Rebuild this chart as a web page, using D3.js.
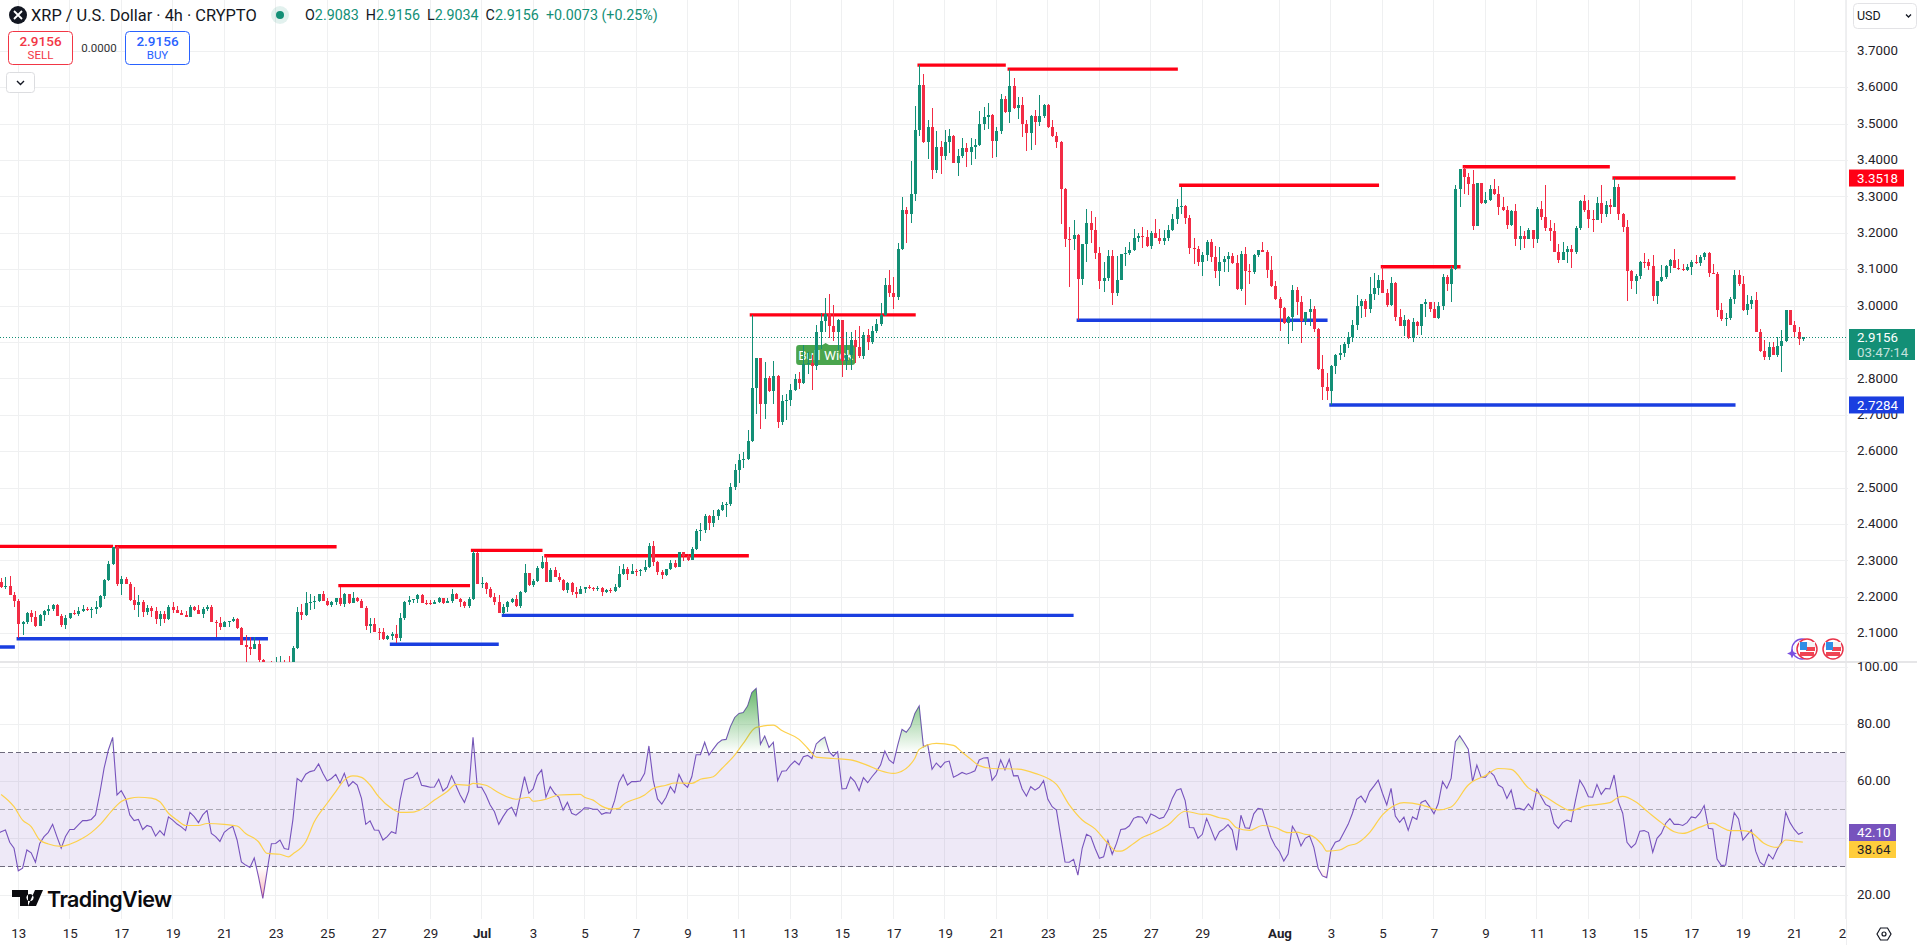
<!DOCTYPE html>
<html>
<head>
<meta charset="utf-8">
<title>XRP / U.S. Dollar 4h</title>
<script src="https://cdn.jsdelivr.net/npm/d3@7/dist/d3.min.js"></script>
<style>
    html, body { margin: 0; padding: 0; background: #fff; overflow: hidden; }
    svg { display: block; font-family: Roboto, Inter, sans-serif; }
</style>
</head>
<body>
<svg id="chart" width="1917" height="945"></svg>
<script>
// 4h closes, ten bars per line. First bar is 12 Jun 04:00
const closes = [
    2.243,2.227,2.231,2.205,2.191,2.127,2.133,2.157,2.146,2.121,
    2.151,2.162,2.169,2.180,2.149,2.124,2.143,2.157,2.154,2.162,
    2.168,2.166,2.169,2.173,2.204,2.248,2.292,2.337,2.237,2.249,
    2.237,2.193,2.179,2.188,2.160,2.170,2.162,2.140,2.154,2.140,
    2.173,2.165,2.158,2.152,2.146,2.173,2.165,2.154,2.168,2.173,
    2.133,2.129,2.118,2.132,2.135,2.141,2.116,2.069,2.064,2.058,
    2.071,2.027,2.000,2.005,2.000,2.010,2.015,2.005,1.995,2.061,
    2.160,2.151,2.183,2.187,2.191,2.209,2.191,2.179,2.187,2.197,
    2.182,2.209,2.184,2.198,2.190,2.171,2.122,2.127,2.106,2.104,
    2.086,2.094,2.099,2.087,2.142,2.187,2.193,2.194,2.206,2.184,
    2.183,2.182,2.187,2.197,2.183,2.190,2.209,2.196,2.187,2.176,
    2.195,2.322,2.237,2.239,2.223,2.201,2.187,2.157,2.173,2.187,
    2.195,2.176,2.215,2.267,2.234,2.245,2.281,2.297,2.242,2.275,
    2.256,2.248,2.220,2.239,2.215,2.209,2.223,2.228,2.226,2.223,
    2.226,2.215,2.220,2.217,2.228,2.264,2.278,2.264,2.272,2.271,
    2.275,2.283,2.341,2.297,2.269,2.261,2.278,2.294,2.283,2.324,
    2.313,2.302,2.333,2.382,2.385,2.423,2.404,2.423,2.440,2.454,
    2.456,2.503,2.550,2.577,2.580,2.629,2.775,2.858,2.731,2.802,
    2.767,2.808,2.682,2.739,2.742,2.770,2.800,2.789,2.841,2.845,
    2.835,2.929,2.959,2.978,2.945,2.929,2.962,2.849,2.866,2.907,
    2.888,2.863,2.921,2.901,2.932,2.951,2.976,3.058,3.037,3.026,
    3.157,3.264,3.254,3.308,3.484,3.607,3.451,3.492,3.374,3.437,
    3.413,3.451,3.467,3.393,3.412,3.434,3.423,3.437,3.443,3.500,
    3.519,3.525,3.454,3.481,3.569,3.533,3.605,3.544,3.552,3.500,
    3.475,3.522,3.506,3.522,3.552,3.492,3.467,3.451,3.322,3.184,
    3.183,3.195,3.074,3.171,3.228,3.209,3.146,3.069,3.077,3.138,
    3.036,3.072,3.143,3.146,3.154,3.187,3.193,3.190,3.165,3.201,
    3.187,3.179,3.187,3.209,3.239,3.272,3.275,3.242,3.160,3.158,
    3.121,3.140,3.176,3.135,3.096,3.121,3.129,3.138,3.118,3.047,
    3.143,3.097,3.095,3.140,3.154,3.149,3.099,3.055,3.020,2.995,
    2.954,2.970,3.044,3.011,2.958,2.984,2.992,2.937,2.827,2.778,
    2.767,2.835,2.866,2.871,2.896,2.915,2.948,3.000,3.014,2.992,
    3.033,3.050,3.072,3.036,3.003,3.063,2.970,2.945,2.962,2.911,
    2.956,2.945,3.006,3.011,2.992,2.967,3.000,3.080,3.061,3.102,
    3.321,3.377,3.355,3.335,3.220,3.338,3.283,3.291,3.321,3.307,
    3.272,3.264,3.223,3.261,3.184,3.193,3.184,3.209,3.184,3.267,
    3.245,3.215,3.206,3.149,3.127,3.149,3.157,3.149,3.215,3.289,
    3.264,3.239,3.237,3.283,3.253,3.278,3.272,3.327,3.253,3.217,
    3.096,3.069,3.083,3.121,3.120,3.110,3.028,3.069,3.080,3.110,
    3.127,3.105,3.103,3.099,3.107,3.121,3.119,3.135,3.147,3.090,
    3.088,2.989,2.964,2.966,3.020,3.086,3.061,2.989,3.006,3.017,
    2.930,2.877,2.860,2.887,2.866,2.890,2.904,2.989,2.948,2.929,
    2.9083,2.9156
];
const highs = [
    2.258,2.254,2.256,2.259,2.215,2.194,2.136,2.160,2.165,2.162,
    2.153,2.165,2.179,2.182,2.182,2.154,2.151,2.158,2.165,2.173,
    2.179,2.173,2.173,2.190,2.206,2.250,2.300,2.339,2.342,2.259,
    2.257,2.243,2.227,2.206,2.193,2.179,2.177,2.173,2.162,2.162,
    2.179,2.187,2.176,2.165,2.162,2.179,2.176,2.179,2.172,2.179,
    2.179,2.138,2.145,2.135,2.136,2.145,2.143,2.119,2.096,2.090,
    2.090,2.083,2.030,2.012,2.025,2.036,2.038,2.028,2.039,2.066,
    2.172,2.182,2.215,2.209,2.204,2.210,2.218,2.198,2.191,2.198,
    2.229,2.211,2.210,2.215,2.202,2.195,2.176,2.142,2.142,2.115,
    2.115,2.097,2.106,2.124,2.157,2.189,2.203,2.195,2.209,2.209,
    2.192,2.192,2.192,2.201,2.199,2.199,2.223,2.213,2.198,2.189,
    2.202,2.328,2.324,2.256,2.242,2.228,2.211,2.206,2.182,2.190,
    2.198,2.206,2.217,2.291,2.267,2.250,2.286,2.313,2.313,2.281,
    2.283,2.267,2.250,2.242,2.242,2.228,2.231,2.229,2.234,2.229,
    2.231,2.227,2.223,2.225,2.236,2.286,2.291,2.283,2.291,2.278,
    2.278,2.302,2.349,2.355,2.300,2.275,2.278,2.302,2.302,2.325,
    2.325,2.319,2.338,2.388,2.404,2.429,2.426,2.440,2.443,2.462,
    2.462,2.514,2.566,2.594,2.599,2.660,2.976,2.858,2.858,2.846,
    2.808,2.850,2.811,2.756,2.759,2.786,2.813,2.819,2.893,2.874,
    2.866,2.948,2.981,3.022,3.033,3.003,2.965,2.962,2.930,2.930,
    2.934,2.945,2.929,2.937,2.945,2.965,3.009,3.076,3.099,3.079,
    3.172,3.299,3.273,3.399,3.550,3.662,3.639,3.511,3.544,3.481,
    3.454,3.484,3.486,3.470,3.432,3.462,3.448,3.462,3.459,3.536,
    3.547,3.558,3.528,3.492,3.583,3.577,3.651,3.627,3.574,3.574,
    3.511,3.525,3.539,3.580,3.555,3.555,3.511,3.478,3.454,3.324,
    3.217,3.236,3.198,3.171,3.267,3.261,3.245,3.162,3.121,3.154,
    3.154,3.138,3.143,3.162,3.176,3.212,3.201,3.217,3.209,3.206,
    3.239,3.212,3.209,3.223,3.253,3.294,3.328,3.278,3.250,3.187,
    3.165,3.149,3.182,3.184,3.165,3.162,3.138,3.149,3.145,3.140,
    3.151,3.162,3.116,3.143,3.154,3.176,3.154,3.138,3.069,3.025,
    2.998,2.973,3.058,3.052,3.028,2.984,3.020,3.000,2.940,2.866,
    2.816,2.838,2.868,2.893,2.901,2.929,2.962,3.030,3.020,3.020,
    3.080,3.090,3.085,3.107,3.047,3.080,3.066,2.992,2.976,2.965,
    2.967,2.959,3.006,3.020,3.011,3.011,3.011,3.088,3.085,3.110,
    3.332,3.377,3.382,3.365,3.373,3.338,3.339,3.313,3.333,3.349,
    3.330,3.300,3.275,3.264,3.280,3.220,3.206,3.215,3.209,3.272,
    3.289,3.333,3.237,3.228,3.170,3.176,3.165,3.168,3.220,3.291,
    3.305,3.291,3.264,3.300,3.333,3.289,3.294,3.352,3.335,3.256,
    3.236,3.099,3.088,3.124,3.146,3.130,3.140,3.069,3.113,3.113,
    3.130,3.157,3.130,3.116,3.116,3.127,3.140,3.140,3.149,3.149,
    3.116,3.095,3.009,2.982,3.025,3.099,3.099,3.083,3.030,3.028,
    3.039,2.937,2.907,2.901,2.901,2.915,2.934,2.989,2.990,2.959,
    2.943,2.9156
];
const lows = [
    2.235,2.225,2.222,2.205,2.174,2.087,2.097,2.127,2.131,2.119,
    2.120,2.136,2.151,2.163,2.148,2.119,2.113,2.141,2.151,2.149,
    2.160,2.162,2.144,2.154,2.170,2.195,2.245,2.290,2.231,2.206,
    2.236,2.191,2.165,2.147,2.147,2.151,2.145,2.127,2.121,2.129,
    2.138,2.156,2.156,2.151,2.145,2.146,2.162,2.153,2.143,2.162,
    2.132,2.090,2.110,2.118,2.119,2.132,2.112,2.068,2.000,2.042,
    2.057,2.010,1.980,1.970,1.970,1.980,1.980,1.970,1.960,1.990,
    2.058,2.138,2.150,2.165,2.168,2.187,2.190,2.177,2.173,2.179,
    2.176,2.174,2.182,2.184,2.187,2.171,2.110,2.101,2.105,2.083,
    2.083,2.083,2.084,2.074,2.080,2.137,2.179,2.183,2.183,2.184,
    2.179,2.178,2.183,2.183,2.181,2.184,2.185,2.195,2.174,2.171,
    2.171,2.192,2.236,2.225,2.210,2.197,2.179,2.156,2.155,2.160,
    2.183,2.174,2.171,2.212,2.231,2.228,2.242,2.277,2.241,2.241,
    2.255,2.242,2.217,2.212,2.206,2.199,2.209,2.211,2.223,2.217,
    2.217,2.204,2.211,2.212,2.215,2.225,2.261,2.247,2.263,2.258,
    2.258,2.270,2.280,2.286,2.261,2.250,2.259,2.275,2.280,2.283,
    2.300,2.300,2.302,2.330,2.355,2.377,2.385,2.394,2.412,2.437,
    2.421,2.451,2.495,2.514,2.555,2.577,2.627,2.703,2.662,2.690,
    2.764,2.731,2.665,2.673,2.687,2.725,2.767,2.771,2.786,2.814,
    2.770,2.824,2.882,2.929,2.912,2.904,2.879,2.805,2.825,2.825,
    2.844,2.858,2.855,2.879,2.896,2.926,2.945,2.973,3.024,2.991,
    3.017,3.154,3.174,3.229,3.290,3.467,3.448,3.404,3.349,3.365,
    3.363,3.401,3.420,3.393,3.357,3.407,3.382,3.388,3.404,3.440,
    3.484,3.486,3.407,3.410,3.473,3.530,3.503,3.541,3.514,3.464,
    3.426,3.429,3.443,3.495,3.517,3.489,3.464,3.434,3.226,3.162,
    3.052,3.154,2.962,3.058,3.121,3.173,3.129,3.047,3.039,3.069,
    3.003,3.028,3.071,3.110,3.140,3.151,3.176,3.160,3.163,3.157,
    3.186,3.171,3.168,3.179,3.206,3.225,3.253,3.225,3.143,3.116,
    3.110,3.083,3.124,3.121,3.077,3.055,3.094,3.094,3.116,3.044,
    3.041,3.003,3.062,3.088,3.135,3.148,3.077,3.052,3.017,2.932,
    2.950,2.896,2.932,2.976,2.899,2.948,2.945,2.929,2.824,2.742,
    2.742,2.728,2.813,2.852,2.860,2.885,2.901,2.934,2.967,2.970,
    2.981,3.017,3.031,3.035,2.998,3.000,2.959,2.944,2.918,2.909,
    2.901,2.920,2.920,2.970,2.984,2.966,2.965,2.989,3.041,3.011,
    3.099,3.272,3.308,3.305,3.209,3.219,3.280,3.280,3.289,3.305,
    3.250,3.261,3.212,3.220,3.165,3.154,3.160,3.184,3.160,3.173,
    3.236,3.206,3.179,3.148,3.118,3.126,3.118,3.105,3.143,3.209,
    3.259,3.215,3.204,3.237,3.228,3.245,3.253,3.272,3.236,3.204,
    3.014,3.047,3.033,3.074,3.105,3.099,3.014,3.006,3.066,3.074,
    3.091,3.104,3.100,3.096,3.096,3.085,3.116,3.110,3.128,3.081,
    3.088,2.971,2.960,2.944,2.962,3.006,3.055,2.987,2.976,2.992,
    2.929,2.874,2.852,2.852,2.865,2.860,2.820,2.901,2.948,2.914,
    2.894,2.9034
];
const firstOpen = 2.250;

const rsiValues = [
    41.5,42.3,42.9,38.6,36.5,28.6,29.5,35.9,34.9,31.6,
    38.2,40.6,42.1,44.9,40.6,36.5,40.6,43.1,43.1,44.7,
    46.2,46.2,46.6,48.2,55.8,64.6,71,75.4,55.2,56.7,
    54,48.2,46.2,46.6,43.1,44.5,44,40.8,42.7,41,
    47.5,46.4,45,44,42.7,49.1,47.6,45.5,48.2,49.8,
    41.7,40.6,38.9,42.1,43.3,44.2,39.4,31.7,30.6,29.8,
    33.1,26.5,18.9,28.5,38.1,38.2,39.4,36.4,36.1,46.4,
    61,59.9,62.5,63.4,63.8,66.1,62.8,60.1,61,62.4,
    59.3,62.8,58.3,59.9,58.7,54,44.9,46.1,42.9,42.8,
    39.4,40.6,42.3,41.7,53.4,60.4,61,61.4,63.1,58.6,
    58.3,57.9,58,60.7,56.6,57.9,61.9,58.6,55.2,52.6,
    56.6,75.4,57.9,57.9,55.2,51.7,49.3,44.9,47.6,49.9,
    50.9,47.9,54.6,61.6,55.8,57.3,62,64,54.4,58.1,
    55.8,54.4,49.9,52.6,48.8,48.1,49.3,50.7,50.6,50.2,
    50.2,48.4,49,48.8,53.2,59.6,62.4,58.7,59.9,59.9,
    60.1,62.8,72.4,60.4,53.8,52,54.4,58.1,56,62.4,
    59.3,57.9,61.6,69.3,69.3,73.7,69.2,71.3,73.3,74.5,
    74.7,79.2,82.4,83.8,84.1,86.4,91.1,92.6,73,75.9,
    71.9,73.7,60.2,63.5,63.7,65.7,67.1,65.8,68.6,69.1,
    68,73.1,74.5,75.5,70.4,68.8,70.4,57.3,57.5,61.5,
    59.9,56.7,61.3,59.5,61.6,63.4,65.7,70.6,67.5,66.3,
    72.7,78.2,77.2,79.2,83.8,86.4,72.1,72.8,64.2,66.4,
    64.9,66.7,67.1,61.4,62.2,63.1,62.5,63,63.7,67.5,
    68.2,68.3,60.3,62.3,67.5,64,67.7,61.9,62,57.3,
    54.8,58.1,56.9,57.9,60.2,53.7,51.1,49.9,40.6,31.7,
    31.6,32.6,27.1,36.5,41.4,40.6,36.5,33,33.5,39.2,
    34.4,38.2,43.1,43.3,44.4,47,47.6,47.4,45.2,48.5,
    47.8,46.9,47.4,49.9,54,56.9,57.4,53.2,43.8,43.7,
    40,41.4,47,43.3,39.4,42.3,43.3,44.8,42.9,35.8,
    48.1,43.7,43.5,48.6,50.5,50.2,45.2,40.3,37.3,35.3,
    32,34.5,44.2,41.7,37.3,40,40.9,36.8,29.5,26.8,
    26.2,35.9,38.6,39.2,42,44.9,48.8,53.7,54.8,52.6,
    56.4,58.3,60.4,55.8,51.7,57.5,47.8,45.6,47.4,42.8,
    47.5,46.6,52.6,53.3,51.1,48.6,52.2,59.9,57.5,61,
    73.9,76,73.7,71.3,59.9,65.7,61.4,61.4,63.4,62,
    58.7,57.8,54,56.9,50.4,50.5,49.9,52.1,50.2,57.3,
    54.6,51.9,51.1,45.2,43.5,45.5,46.4,45.8,53.4,60.4,
    57.9,54.6,54.4,58.9,55.4,57.5,57.3,62.2,52.8,48.8,
    38.6,36.7,38.1,42.5,42.7,42,35.1,40,41.7,45.2,
    46.9,44.9,44.9,44.5,45.5,47.5,47.2,48.8,51.5,43.5,
    43.3,32.7,30.4,30.6,40.6,49,46.8,39.4,41.2,42.9,
    35.5,31.6,30.4,34.4,32.7,36.1,38.5,49.1,45.5,43.1,
    41.4,42.1
];

// RSI moving average, read at the bars where the curve turns
const maBars = [
    1,4,6,8,10,12,15,17,20,22,24,27,29,31,33,36,38,40,42,44,47,49,53,56,58,61,63,66,68,69,72,74,77,79,81,83,85,
    87,89,92,94,97,99,102,105,107,110,111,114,117,121,124,125,128,131,136,137,139,141,143,145,146,151,153,156,158,
    162,164,167,169,172,174,177,181,183,187,189,191,195,199,203,206,209,210,214,215,219,223,225,227,229,232,238,
    242,247,250,253,256,259,261,262,265,267,269,273,277,281,282,285,287,289,292,295,298,301,303,305,306,309,310,
    313,315,317,320,323,326,328,332,333,336,339,343,344,347,350,353,357,361,364,367,370,373,376,378,379,382,385,
    388,391,393,397,400,402,404,407,409,412,415,417,420,421
];
const maValues = [
    55.4,51.1,46.4,44.1,39.4,38,37.2,37.9,40,42,44.7,50,52.9,54,54.4,54.1,52.8,48.8,46.4,44.5,44.5,45.2,44.9,44.3,41.7,38.8,34.7,34.4,33.5,34.5,38.8,45.8,52.3,56.4,60.4,61.9,61.4,
    58.7,54.6,50.5,49.1,49.2,50.2,53.4,56.4,58.9,58.6,59.3,58.6,56,53.7,54.4,53,53.7,55.2,55.4,54.4,53.4,51.3,50.3,50.5,51.8,55.2,57.5,58.6,59.4,
    59.3,60.7,61.6,64.5,69.2,73.3,78.9,79.7,77.8,74.7,71.6,68.5,68,67.5,65.6,63.7,62.8,63,68.1,71.2,73.3,72.6,70.2,67.8,65.5,64.5,64.3,
    62.8,58.9,51.7,46.4,43.3,38.2,35.5,35.5,38.2,40.3,41.5,44.7,49.5,48.4,48.5,47.2,46.6,43.7,42.8,44.5,43.8,42,42.2,41.4,41.2,37.6,35.5,
    35.9,37.4,38.2,42,48.2,51.7,52.5,51.7,51.3,50,51,58.7,59.9,62,64.5,64.2,57.7,54.6,51.7,49.7,51.2,51.8,52.5,54.4,54.7,52.8,49.1,
    45.5,42.3,41.7,43.9,45.3,43.9,42.7,42.7,42,38.2,36.8,39.4,38.8,38.64
];

// Support / resistance levels: price and the bar range they span
const levelPrices = [2.340,2.339,2.232,2.329,2.314,2.976,3.662,3.651,3.332,3.108,3.383,3.3518,2.0636,2.086,2.071,2.1504,2.961,2.7284];
const levelFrom   = [-10,27.5,79.6,110.5,127.6,175.5,214.6,235.6,275.6,322.6,341.7,376.6,-10,4.6,91.6,117.7,251.7,310.6];
const levelTo     = [27.1,79.2,110.3,127.2,175.3,214.2,235.2,275.3,322.2,341.2,376,405.3,4.2,63.2,117,251,310.2,405.3];
const levelKinds  = ["r","r","r","r","r","r","r","r","r","r","r","r","b","b","b","b","b","b"];

const priceTicks = [3.7,3.6,3.5,3.4,3.3,3.2,3.1,3.0,2.9,2.8,2.7,2.6,2.5,2.4,2.3,2.2,2.1];
const priceLabels = [3.7,3.6,3.5,3.4,3.3,3.2,3.1,3.0,2.8,2.7,2.6,2.5,2.4,2.3,2.2,2.1];
const rsiTicks = [100,80,60,40,20];
const rsiLabels = [100,80,60,20];
const dayTicks = [
    "06-13","06-15","06-17","06-19","06-21","06-23","06-25","06-27","06-29",
    "07-01","07-03","07-05","07-07","07-09","07-11","07-13","07-15","07-17","07-19","07-21","07-23","07-25","07-27","07-29",
    "08-01","08-03","08-05","08-07","08-09","08-11","08-13","08-15","08-17","08-19","08-21","08-23"
];
const lastPrice = 2.9156;
const lastRsi = 42.10;
const lastRsiMa = 38.64;
const resistanceLabel = 3.3518;
const supportLabel = 2.7284;

const up = "#138f76", down = "#f22c45", redLine = "#ff0015", blueLine = "#1a3ee0";
const gridColor = "#eff0f1";
const plotRight = 1846, mainBottom = 662, rsiTop = 663, rsiBottom = 919;

const parseDay = d3.utcParse("%Y-%m-%d");
const tickDates = dayTicks.map((d) => parseDay("2025-" + d));
const firstBar = Date.UTC(2025, 5, 12, 4);
const barTime = (i) => new Date(firstBar + i * 4 * 3600e3);

const x = d3.scaleUtc()
    .domain([parseDay("2025-06-13"), parseDay("2025-08-21")])
    .range([18.3, 1794.3]);
const y = d3.scaleLinear().domain([3.7, 2.1]).range([51.3, 633.7]);
const yRsi = d3.scaleLinear().domain([100, 20]).range([667.3, 895.3]);

const svg = d3.select("#chart");
const defs = svg.append("defs");

function addClip(id, x0, y0, w, h) {
    defs.append("clipPath").attr("id", id).append("rect")
        .attr("x", x0).attr("y", y0).attr("width", w).attr("height", h);
}
addClip("main-clip", 0, 0, plotRight, mainBottom);
addClip("rsi-clip", 0, rsiTop, plotRight, rsiBottom - rsiTop);
addClip("time-clip", 0, rsiBottom, plotRight, 945 - rsiBottom);
addClip("over-clip", 0, rsiTop, plotRight, yRsi(70) - rsiTop);
addClip("under-clip", 0, yRsi(30), plotRight, rsiBottom - yRsi(30));

// Grid
const grid = svg.append("g").attr("stroke", gridColor).attr("stroke-width", 1).attr("shape-rendering", "crispEdges");
grid.selectAll(".v-main").data(tickDates).enter().append("line")
    .attr("x1", (d) => x(d)).attr("x2", (d) => x(d))
    .attr("y1", 0).attr("y2", mainBottom);
grid.selectAll(".v-rsi").data(tickDates).enter().append("line")
    .attr("x1", (d) => x(d)).attr("x2", (d) => x(d))
    .attr("y1", rsiTop).attr("y2", rsiBottom);
grid.selectAll(".h-main").data(priceTicks).enter().append("line")
    .attr("x1", 0).attr("x2", plotRight + 2)
    .attr("y1", (d) => y(d)).attr("y2", (d) => y(d));
grid.selectAll(".h-rsi").data(rsiTicks).enter().append("line")
    .attr("x1", 0).attr("x2", plotRight + 2)
    .attr("y1", (d) => yRsi(d)).attr("y2", (d) => yRsi(d));

// Pane borders
svg.append("line").attr("x1", plotRight).attr("x2", plotRight).attr("y1", 0).attr("y2", 945)
    .attr("stroke", "#eeeef0").attr("shape-rendering", "crispEdges");
svg.append("line").attr("x1", 0).attr("x2", 1917).attr("y1", mainBottom).attr("y2", mainBottom)
    .attr("stroke", "#e6e6e8").attr("stroke-width", 1.5).attr("shape-rendering", "crispEdges");

// Main pane
const main = svg.append("g").attr("clip-path", "url(#main-clip)");

const bullX = x(barTime(193.2));
const bull = main.append("g");
bull.append("path")
    .attr("d", `M${bullX - 5} 346 L${bullX} 343 L${bullX + 5} 346 Z`).attr("fill", "#4aa54d");
bull.append("rect").attr("x", bullX - 29.5).attr("y", 345).attr("width", 59).attr("height", 20).attr("rx", 3)
    .attr("fill", "#4aa54d");
bull.append("text").attr("x", bullX).attr("y", 355).attr("dy", ".34em").attr("text-anchor", "middle")
    .attr("fill", "#fff").attr("font-size", 13.5).text("Bull Wick");

const levels = d3.range(levelPrices.length).map((i) => ({
    price: levelPrices[i], from: levelFrom[i], to: levelTo[i], kind: levelKinds[i]
}));
main.selectAll(".level").data(levels).enter().append("line")
    .attr("x1", (d) => x(barTime(d.from))).attr("x2", (d) => x(barTime(d.to)))
    .attr("y1", (d) => y(d.price)).attr("y2", (d) => y(d.price))
    .attr("stroke", (d) => d.kind === "r" ? redLine : blueLine)
    .attr("stroke-width", 3.4);

// Candles: crypto trades around the clock, so each bar opens at the previous close
const candles = closes.map((c, i) => ({
    i, close: c, high: highs[i], low: lows[i],
    open: i === 0 ? firstOpen : closes[i - 1]
}));
const candle = main.selectAll(".candle").data(candles).enter().append("g")
    .attr("fill", (d) => d.close >= d.open ? up : down)
    .attr("shape-rendering", "crispEdges");
candle.append("rect")
    .attr("x", (d) => Math.round(x(barTime(d.i)))).attr("width", 1)
    .attr("y", (d) => y(d.high)).attr("height", (d) => y(d.low) - y(d.high));
candle.append("rect")
    .attr("x", (d) => Math.round(x(barTime(d.i))) - 1).attr("width", 3)
    .attr("y", (d) => y(Math.max(d.open, d.close)))
    .attr("height", (d) => Math.max(1, Math.abs(y(d.open) - y(d.close))));

main.append("line").attr("x1", 0).attr("x2", plotRight)
    .attr("y1", Math.round(y(lastPrice)) + 0.5).attr("y2", Math.round(y(lastPrice)) + 0.5)
    .attr("stroke", up).attr("stroke-dasharray", "1 2");

// RSI pane
const rsi = svg.append("g").attr("clip-path", "url(#rsi-clip)");
rsi.append("rect").attr("x", 0).attr("width", plotRight).attr("y", yRsi(70)).attr("height", yRsi(30) - yRsi(70))
    .attr("fill", "#7e57c2").attr("fill-opacity", 0.13);

const overGrad = defs.append("linearGradient").attr("id", "over-grad").attr("gradientUnits", "userSpaceOnUse")
    .attr("x1", 0).attr("x2", 0).attr("y1", yRsi(100)).attr("y2", yRsi(70));
overGrad.append("stop").attr("offset", 0).attr("stop-color", "#37a13c").attr("stop-opacity", 1);
overGrad.append("stop").attr("offset", 1).attr("stop-color", "#37a13c").attr("stop-opacity", 0);
const underGrad = defs.append("linearGradient").attr("id", "under-grad").attr("gradientUnits", "userSpaceOnUse")
    .attr("x1", 0).attr("x2", 0).attr("y1", yRsi(30)).attr("y2", yRsi(0));
underGrad.append("stop").attr("offset", 0).attr("stop-color", "#f23645").attr("stop-opacity", 0);
underGrad.append("stop").attr("offset", 1).attr("stop-color", "#f23645").attr("stop-opacity", 1);

const rsiPoints = rsiValues.map((v, i) => ({ i, v }));
const overArea = d3.area().x((d) => x(barTime(d.i))).y0(yRsi(70)).y1((d) => yRsi(d.v));
const underArea = d3.area().x((d) => x(barTime(d.i))).y0(yRsi(30)).y1((d) => yRsi(d.v));
svg.append("path").datum(rsiPoints).attr("d", overArea).attr("fill", "url(#over-grad)").attr("clip-path", "url(#over-clip)");
svg.append("path").datum(rsiPoints).attr("d", underArea).attr("fill", "url(#under-grad)").attr("clip-path", "url(#under-clip)");

[[70, "#6d6a7c", "5 3"], [50, "#aaa8b3", "5 3"], [30, "#6d6a7c", "5 3"]].forEach(([level, color, dash]) => {
    rsi.append("line").attr("x1", 0).attr("x2", plotRight)
        .attr("y1", yRsi(level)).attr("y2", yRsi(level))
        .attr("stroke", color).attr("stroke-dasharray", dash).attr("shape-rendering", "crispEdges");
});

const rsiLine = d3.line().x((d) => x(barTime(d.i))).y((d) => yRsi(d.v));
rsi.append("path").datum(rsiPoints).attr("d", rsiLine)
    .attr("fill", "none").attr("stroke", "#7753bd").attr("stroke-width", 1.1);

const maPoints = maBars.map((b, i) => ({ i: b, v: maValues[i] }));
const maLine = d3.line().x((d) => x(barTime(d.i))).y((d) => yRsi(d.v)).curve(d3.curveMonotoneX);
rsi.append("path").datum(maPoints).attr("d", maLine)
    .attr("fill", "none").attr("stroke", "#fdd14b").attr("stroke-width", 1.2);

// Axes
const axisText = "#1f2229";
const priceAxis = d3.axisRight(y).tickValues(priceLabels).tickFormat(d3.format(".4f")).tickSize(0).tickPadding(0);
svg.append("g").attr("transform", "translate(1857,-1)").call(priceAxis)
    .call((g) => g.select(".domain").remove())
    .call((g) => g.selectAll("text").attr("font-size", 13.3).attr("fill", axisText).attr("font-family", "Roboto"));
const rsiAxis = d3.axisRight(yRsi).tickValues(rsiLabels).tickFormat(d3.format(".2f")).tickSize(0).tickPadding(0);
svg.append("g").attr("transform", "translate(1857,-1)").call(rsiAxis)
    .call((g) => g.select(".domain").remove())
    .call((g) => g.selectAll("text").attr("font-size", 13.3).attr("fill", axisText).attr("font-family", "Roboto"));

const monthLabel = d3.utcFormat("%b");
const dayLabel = d3.utcFormat("%-d");
const timeAxis = d3.axisBottom(x).tickValues(tickDates).tickSize(0).tickPadding(0)
    .tickFormat((d) => d.getUTCDate() === 1 ? monthLabel(d) : dayLabel(d));
svg.append("g").attr("clip-path", "url(#time-clip)")
    .append("g").attr("transform", "translate(0,929)").call(timeAxis)
    .call((g) => g.select(".domain").remove())
    .call((g) => g.selectAll("text").attr("font-size", 13.3).attr("fill", axisText).attr("font-family", "Roboto")
        .attr("font-weight", (d) => d.getUTCDate() === 1 ? 700 : 400));

// Price tags on the axis
function tag(yPos, h, w, color, label, textColor) {
    svg.append("rect").attr("x", 1849).attr("y", yPos - h / 2).attr("width", w).attr("height", h).attr("fill", color);
    svg.append("text").attr("x", 1857).attr("y", yPos).attr("dy", ".35em")
        .attr("font-size", 13.3).attr("fill", textColor).text(label);
}
const price4 = d3.format(".4f"), rsi2 = d3.format(".2f");
tag(y(resistanceLabel), 17, 55, redLine, price4(resistanceLabel), "#fff");
tag(y(supportLabel), 17, 55, blueLine, price4(supportLabel), "#fff");
svg.append("rect").attr("x", 1849).attr("y", 329).attr("width", 66).attr("height", 31).attr("fill", up);
svg.append("text").attr("x", 1857).attr("y", 337.5).attr("dy", ".35em").attr("font-size", 13.3).attr("fill", "#fff").text(price4(lastPrice));
svg.append("text").attr("x", 1857).attr("y", 352).attr("dy", ".35em").attr("font-size", 13.3).attr("fill", "#fff").attr("fill-opacity", 0.75).text("03:47:14");
tag(832.5, 17, 47, "#7753bd", rsi2(lastRsi), "#fff");
tag(849.5, 17, 47, "#ffcd3c", rsi2(lastRsiMa), "#1f2229");

// Chart legend
const header = svg.append("g");
header.append("circle").attr("cx", 18).attr("cy", 15).attr("r", 9).attr("fill", "#131722");
header.append("path").attr("d", "M14 11 L22 19 M22 11 L14 19").attr("stroke", "#fff").attr("stroke-width", 1.8).attr("fill", "none");
header.append("text").attr("x", 31).attr("y", 15).attr("dy", ".35em").attr("font-size", 16.4).attr("fill", "#131722")
    .text("XRP / U.S. Dollar · 4h · CRYPTO");
header.append("circle").attr("cx", 280).attr("cy", 15).attr("r", 9).attr("fill", up).attr("fill-opacity", 0.12);
header.append("circle").attr("cx", 280).attr("cy", 15).attr("r", 4).attr("fill", up);

const legendParts = [["O", "2.9083"], ["H", "2.9156"], ["L", "2.9034"], ["C", "2.9156"]];
const legend = header.append("text").attr("x", 305).attr("y", 15).attr("dy", ".35em").attr("font-size", 14.3);
legendParts.forEach(([k, v], i) => {
    legend.append("tspan").attr("dx", i ? 7 : 0).attr("fill", "#131722").text(k);
    legend.append("tspan").attr("fill", up).text(v);
});
legend.append("tspan").attr("dx", 7).attr("fill", up).text("+0.0073 (+0.25%)");

function tradeBox(x0, color, priceText, caption) {
    const g = svg.append("g");
    g.append("rect").attr("x", x0 + 0.5).attr("y", 31.5).attr("width", 64).attr("height", 33).attr("rx", 4)
        .attr("fill", "#fff").attr("stroke", color);
    g.append("text").attr("x", x0 + 32.5).attr("y", 41).attr("dy", ".35em").attr("text-anchor", "middle")
        .attr("font-size", 13.5).attr("font-weight", 500).attr("fill", color).text(priceText);
    g.append("text").attr("x", x0 + 32.5).attr("y", 55).attr("dy", ".35em").attr("text-anchor", "middle")
        .attr("font-size", 11.5).attr("fill", color).text(caption);
}
tradeBox(8, "#f23645", "2.9156", "SELL");
tradeBox(125, "#2962ff", "2.9156", "BUY");
svg.append("text").attr("x", 99).attr("y", 48).attr("dy", ".35em").attr("text-anchor", "middle")
    .attr("font-size", 11.5).attr("fill", "#333").text("0.0000");

svg.append("rect").attr("x", 6.5).attr("y", 72.5).attr("width", 28).attr("height", 20).attr("rx", 3)
    .attr("fill", "#fff").attr("stroke", "#dcdde0");
svg.append("path").attr("d", "M17 81 L20.5 84.5 L24 81").attr("fill", "none").attr("stroke", "#131722").attr("stroke-width", 1.4);

svg.append("rect").attr("x", 1853.5).attr("y", 3.5).attr("width", 63).attr("height", 25).attr("rx", 4)
    .attr("fill", "#fff").attr("stroke", "#e3e3e6");
svg.append("text").attr("x", 1857).attr("y", 15.5).attr("dy", ".35em").attr("font-size", 12.5).attr("fill", "#131722").text("USD");
svg.append("path").attr("d", "M1906 14.5 L1908.5 17 L1911 14.5").attr("fill", "none").attr("stroke", "#131722").attr("stroke-width", 1.3);

// Settings hexagon at the end of the time axis
svg.append("path").attr("d", "M1877 934 L1880.5 928 L1887.5 928 L1891 934 L1887.5 940 L1880.5 940 Z")
    .attr("fill", "none").attr("stroke", "#131722").attr("stroke-width", 1.2);
svg.append("circle").attr("cx", 1884).attr("cy", 934).attr("r", 2).attr("fill", "none").attr("stroke", "#131722").attr("stroke-width", 1.2);

// TradingView watermark
svg.append("path").attr("fill", "#0b0b0f")
    .attr("d", "M12 890 H28 V906 H20 V897 H12 Z M30 894 a3.6 3.6 0 1 0 0.01 0 Z M35 890 H43 L36 906 H28 Z");
svg.append("text").attr("x", 47).attr("y", 899).attr("dy", ".35em")
    .attr("font-size", 21.5).attr("font-weight", 600).attr("font-family", "Inter").attr("letter-spacing", -0.6)
    .attr("fill", "#0b0b0f").text("TradingView");

// Economic event markers
function flag(cx, cy) {
    const g = svg.append("g");
    g.append("circle").attr("cx", cx).attr("cy", cy).attr("r", 10).attr("fill", "#fff").attr("stroke", "#e8344a").attr("stroke-width", 1.5);
    g.append("rect").attr("x", cx - 8).attr("y", cy - 7).attr("width", 16).attr("height", 5).attr("fill", "#f4f4f4");
    g.append("rect").attr("x", cx - 1).attr("y", cy - 2).attr("width", 9).attr("height", 4).attr("fill", "#ef4453");
    g.append("rect").attr("x", cx - 7).attr("y", cy + 3).attr("width", 14).attr("height", 4).attr("fill", "#ef4453");
    g.append("rect").attr("x", cx - 7).attr("y", cy - 7).attr("width", 7).attr("height", 8).attr("fill", "#2f8ee5");
}
svg.append("circle").attr("cx", 1802).attr("cy", 649).attr("r", 10).attr("fill", "none").attr("stroke", "#7a4fe0").attr("stroke-width", 1.4);
flag(1807, 649);
flag(1833, 649);
svg.append("path").attr("d", "M1792 648.5 L1793.5 652 L1797 653.5 L1793.5 655 L1792 658.5 L1790.5 655 L1787 653.5 L1790.5 652 Z").attr("fill", "#7a4fe0");
</script>
</body>
</html>
